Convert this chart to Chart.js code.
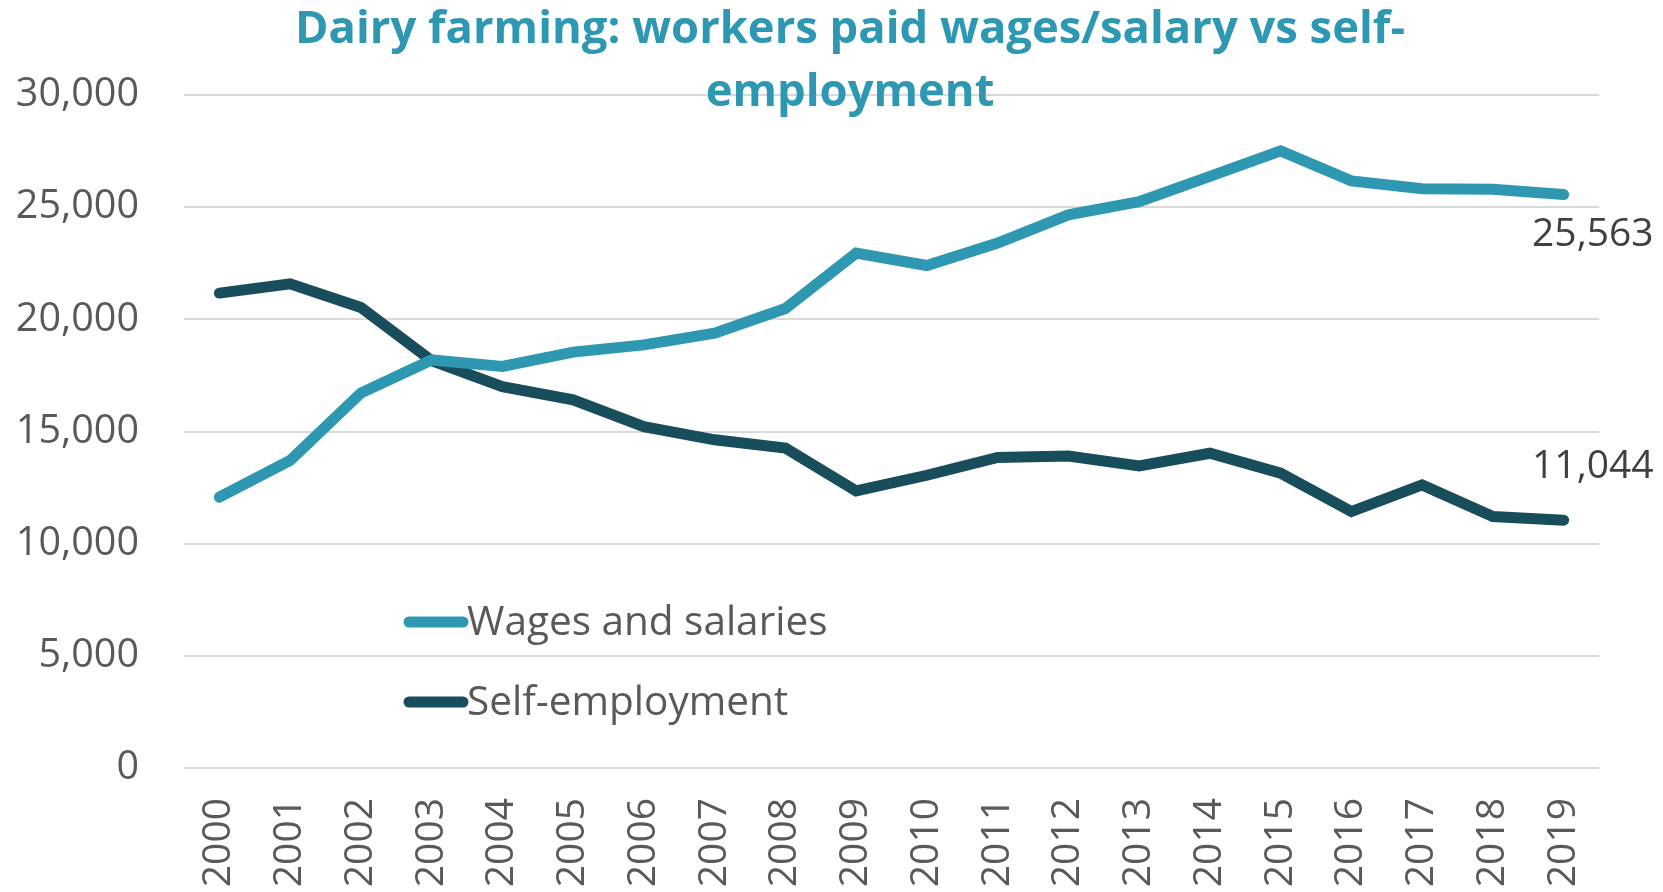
<!DOCTYPE html>
<html>
<head>
<meta charset="utf-8">
<script src="https://cdn.jsdelivr.net/npm/chart.js@4/dist/chart.umd.min.js"></script>
<style>
html,body{margin:0;padding:0;background:#fff;}
#wrap{width:1663px;height:892px;}
</style>
</head>
<body>
<div id="wrap"><canvas id="c" width="1663" height="892"></canvas></div>
<script>
const years = ["2000","2001","2002","2003","2004","2005","2006","2007","2008","2009","2010","2011","2012","2013","2014","2015","2016","2017","2018","2019"];
const wagesAndSalaries = [12070,13710,16710,18190,17900,18540,18860,19380,20480,22950,22400,23400,24660,25250,26370,27510,26170,25820,25800,25563];
const selfEmployment = [21170,21580,20530,18160,17000,16410,15220,14630,14260,12350,13050,13840,13910,13470,14030,13140,11430,12620,11210,11044];
const yTicks = [0,5000,10000,15000,20000,25000,30000];
const titleLines = ["Dairy farming: workers paid wages/salary vs self-","employment"];
const seriesNames = ["Wages and salaries","Self-employment"];

const LIGHT = "#2E98B3";
const DARK = "#184D5C";
const FONT = "'Open Sans', 'Noto Sans', sans-serif";

const overlay = {
  id: 'overlay',
  afterDatasetsDraw(chart) {
    const ctx = chart.ctx;
    ctx.save();
    // Title
    ctx.fillStyle = LIGHT;
    ctx.font = "bold 45px " + FONT;
    ctx.textBaseline = 'alphabetic';
    ctx.textAlign = 'center';
    const targetW = 1110;
    const w0 = ctx.measureText(titleLines[0]).width;
    const sx = targetW / w0;
    const baselines = [43, 106];
    titleLines.forEach((t, i) => {
      ctx.save();
      ctx.translate(850, baselines[i]);
      ctx.scale(sx, 1);
      ctx.fillText(t, 0, 0);
      ctx.restore();
    });
    // Legend
    const legendY = [622, 702];
    chart.data.datasets.forEach((ds, i) => {
      ctx.strokeStyle = ds.borderColor;
      ctx.lineWidth = 11;
      ctx.lineCap = 'round';
      ctx.beginPath();
      ctx.moveTo(409, legendY[i]);
      ctx.lineTo(463, legendY[i]);
      ctx.stroke();
      ctx.fillStyle = '#595959';
      ctx.font = "40.5px " + FONT;
      ctx.textAlign = 'left';
      ctx.textBaseline = 'middle';
      ctx.fillText(ds.label, 467, legendY[i] + 1);
    });
    // End labels
    ctx.fillStyle = '#404040';
    ctx.font = "39px " + FONT;
    ctx.textAlign = 'right';
    ctx.textBaseline = 'middle';
    const offs = [40, -53];
    chart.data.datasets.forEach((ds, i) => {
      const meta = chart.getDatasetMeta(i);
      const pt = meta.data[meta.data.length - 1];
      const v = ds.data[ds.data.length - 1];
      ctx.fillText(v.toLocaleString('en-US'), pt.x + 90, pt.y + offs[i]);
    });
    ctx.restore();
  }
};

new Chart(document.getElementById('c'), {
  type: 'line',
  data: {
    labels: years,
    datasets: [
      { label: seriesNames[0], data: wagesAndSalaries, borderColor: LIGHT, backgroundColor: LIGHT, borderWidth: 11, pointRadius: 0, tension: 0, borderCapStyle: 'round', borderJoinStyle: 'miter' },
      { label: seriesNames[1], data: selfEmployment, borderColor: DARK, backgroundColor: DARK, borderWidth: 11, pointRadius: 0, tension: 0, borderCapStyle: 'round', borderJoinStyle: 'miter' }
    ]
  },
  options: {
    responsive: false,
    animation: false,
    devicePixelRatio: 1,
    layout: { padding: { left: 0, right: 64, top: 95, bottom: 0 } },
    plugins: { legend: { display: false }, title: { display: false }, tooltip: { enabled: false } },
    scales: {
      x: {
        type: 'category',
        offset: true,
        grid: { display: false, drawTicks: false },
        border: { display: false },
        ticks: { color: '#595959', font: { family: FONT, size: 39 }, minRotation: 90, maxRotation: 90, padding: 30, autoSkip: false },
        afterFit(s) { s.height = 124; }
      },
      y: {
        min: 0, max: 30000,
        afterBuildTicks(s) { s.ticks = yTicks.map(v => ({ value: v })); },
        grid: { color: '#D9D9D9', lineWidth: 2, drawTicks: false },
        border: { display: false },
        ticks: { color: '#595959', font: { family: FONT, size: 39.5 }, padding: 45, callback: v => v.toLocaleString('en-US') },
        afterFit(s) { s.width = 184; }
      }
    }
  },
  plugins: [overlay]
});
</script>
</body>
</html>
